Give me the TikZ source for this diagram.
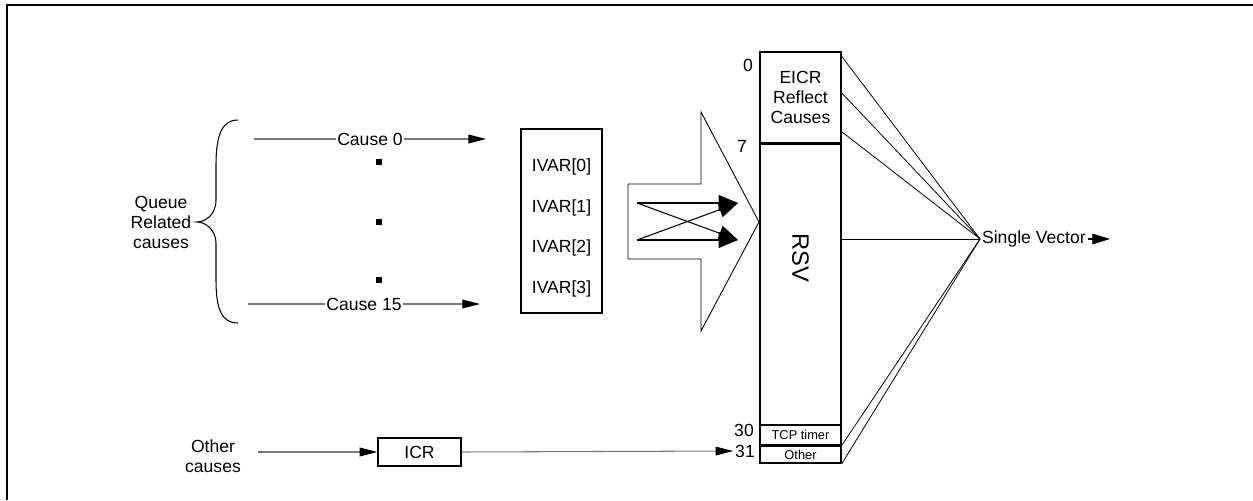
\documentclass[tikz,border=0pt]{standalone}
\usepackage{fontspec}
\setmainfont{Liberation Sans}
\usetikzlibrary{positioning,arrows.meta,calc}
\definecolor{wireGray}{RGB}{120,120,120}

\begin{document}
\begin{tikzpicture}[
    x=0.02cm, y=-0.02cm,
    font=\fontsize{10}{11.4}\selectfont,
    reg box/.style={rectangle, draw, line width=0.8pt, inner sep=0pt, minimum width=1.62cm, align=center},
    plain label/.style={inner sep=1pt, align=center},
    sq dot/.style={rectangle, fill=black, inner sep=0pt, minimum size=0.12cm},
    cause wire/.style={draw=wireGray, line width=0.6pt, -{Triangle[length=10pt, width=5pt, color=black]}},
    cross wire/.style={line width=0.6pt, -{Triangle[length=11pt, width=9pt]}},
    fan wire/.style={line width=0.45pt}
]
  \useasboundingbox (0,0) rectangle (1253,500);
  % page frame (top and left only)
  \draw[line width=1.2pt] (1253,5) -- (7,5) -- (7,500);

  % queue related causes
  \node[plain label] (queue) at (161,222) {Queue\\Related\\causes};
  \draw[line width=0.6pt] (238,120) .. controls (222,120) and (216,135) .. (216,165) -- (216,200)
      .. controls (216,215) and (205,222) .. (197,222)
      .. controls (205,222) and (216,229) .. (216,244) -- (216,280)
      .. controls (216,310) and (222,323) .. (238,323);

  \coordinate (c0s) at (254,139);
  \coordinate (c0e) at (486,139);
  \coordinate (c15s) at (248,304);
  \coordinate (c15e) at (480,304);
  \draw[cause wire] (c0s) -- node[plain label, fill=white] {Cause 0} (c0e);
  \draw[cause wire] (c15s) -- node[plain label, fill=white] {Cause 15} (c15e);
  \foreach \yy [count=\i] in {162,222,280}
    \node[sq dot] (dot\i) at (379,\yy) {};

  % IVAR table
  \node[reg box, minimum height=3.68cm] (ivar) at (561.5,221) {};
  \foreach \i in {0,...,3}
    \node[plain label] (ivar\i) at (561.5,167+40.5*\i) {IVAR[\i]};

  % mapping arrow
  \draw[line width=0.5pt] (628,184) -- (701,184) -- (701,112) -- (759,222)
      -- (701,331) -- (701,259) -- (628,259) -- cycle;
  \coordinate (xa) at (637,203);
  \coordinate (xb) at (637,240);
  \coordinate (ya) at (738,203);
  \coordinate (yb) at (738,240);
  \draw[cross wire] (xa) -- (ya);
  \draw[cross wire] (xa) -- (yb);
  \draw[cross wire] (xb) -- (yb);
  \draw[cross wire] (xb) -- (ya);

  % vector register column
  \node[reg box, minimum height=1.82cm] (eicr) at (800.5,97.5) {EICR\\Reflect\\Causes};
  \node[reg box, minimum height=5.6cm, below=0pt of eicr] (rsv) {};
  \node[reg box, minimum height=0.38cm, below=0pt of rsv, font=\fontsize{7.3}{8}\selectfont] (tcp) {TCP timer};
  \node[reg box, minimum height=0.34cm, below=0pt of tcp, font=\fontsize{7.3}{8}\selectfont] (oth) {Other};
  \node[plain label, rotate=-90, font=\fontsize{13.5}{15}\selectfont] (rsvtxt) at (800.5,258) {RSV};

  \node[plain label] (n0) at (748,65) {0};
  \node[plain label] (n7) at (742,146) {7};
  \node[plain label] (n30) at (744,430) {30};
  \node[plain label] (n31) at (745,451) {31};

  % single vector
  \coordinate (sv) at (980,239);
  \draw[fan wire] ($(eicr.north east)!0.055!(eicr.south east)$) -- (sv);
  \draw[fan wire] ($(eicr.north east)!0.45!(eicr.south east)$) -- (sv);
  \draw[fan wire] ($(eicr.north east)!0.87!(eicr.south east)$) -- (sv);
  \draw[fan wire] (rsv.east |- sv) -- (sv);
  \draw[fan wire] (tcp.south east) -- (sv);
  \draw[fan wire] (oth.south east) -- (sv);
  \node[plain label, anchor=west] (svlab) at (sv) {Single Vector};
  \coordinate (svend) at (1110,239);
  \draw[line width=0.6pt, -{Triangle[length=10pt, width=6pt]}] (svlab.east) -- (svend);

  % other causes
  \node[plain label] (other) at (213,456) {Other\\causes};
  \node[reg box, minimum width=1.66cm, minimum height=0.56cm] (icr) at (419.5,452) {ICR};
  \coordinate (ocs) at (258,452);
  \draw[cause wire] (ocs) -- (icr.west);
  \draw[cause wire] (icr.east) -- (n31.west);
\end{tikzpicture}
\end{document}
